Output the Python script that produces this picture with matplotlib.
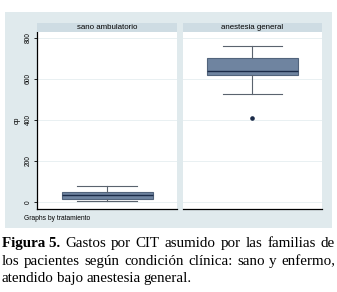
import matplotlib.pyplot as plt
from matplotlib.patches import Rectangle

# box summaries (cp, by tratamiento)
groups = ['sano ambulatorio', 'anestesia general']
medians = [32, 639]
q1 = [15, 620]
q3 = [49, 701]
whis_lo = [6, 527]
whis_hi = [78, 761]
outliers = [[], [412]]

yticks = [0, 200, 400, 600, 800]

caption_lines = [
    ['Figura 5.', 'Gastos', 'por', 'CIT', 'asumido', 'por', 'las', 'familias', 'de'],
    ['los', 'pacientes', 'según', 'condición', 'clínica:', 'sano', 'y', 'enfermo,'],
    ['atendido', 'bajo', 'anestesia', 'general.'],
]

W, H = 337, 292
fig = plt.figure(figsize=(W / 100, H / 100), dpi=100)
fig.patch.set_facecolor('white')

def fx(x):
    return x / W

def fy(y):
    return 1 - y / H

bg = '#e0eaed'
strip = '#cedce3'
fig.add_artist(Rectangle((fx(5), fy(228)), fx(327), 216 / H,
                         transform=fig.transFigure, facecolor=bg, edgecolor='none', zorder=0))

panels = [(37, 177), (183, 322)]
top, bot = 32, 209
for i, (x0, x1) in enumerate(panels):
    ax = fig.add_axes([fx(x0), fy(bot), fx(x1 - x0), (bot - top) / H])
    ax.set_facecolor('white')
    stats = [dict(med=medians[i], q1=q1[i], q3=q3[i], whislo=whis_lo[i],
                  whishi=whis_hi[i], fliers=outliers[i])]
    ax.bxp(stats, positions=[0], widths=0.65, capwidths=0.43, patch_artist=True,
           boxprops=dict(facecolor='#6f84a0', edgecolor='#52647c', linewidth=0.8),
           medianprops=dict(color='#1b2b48', linewidth=1.0),
           whiskerprops=dict(color='#5a636e', linewidth=0.8),
           capprops=dict(color='#5a636e', linewidth=0.8),
           flierprops=dict(marker='o', markersize=2.3, markerfacecolor='#1b2b48',
                           markeredgecolor='#1b2b48'))
    ax.set_xlim(-0.5, 0.5)
    ax.set_ylim(-34, 829)
    ax.set_xticks([])
    ax.set_yticks(yticks)
    for v in yticks:
        ax.axhline(v, color='#e9f0f2', linewidth=0.7, zorder=0)
    for s in ['top', 'right']:
        ax.spines[s].set_visible(False)
    ax.spines['bottom'].set_color('black')
    ax.spines['bottom'].set_linewidth(0.9)
    if i == 0:
        ax.spines['left'].set_linewidth(0.9)
        ax.tick_params(axis='y', length=2.5, width=0.6, pad=1.5, labelsize=4.8)
        for lab in ax.get_yticklabels():
            lab.set_rotation(90)
            lab.set_va('center')
            lab.set_fontfamily('Liberation Sans')
        ax.set_ylabel('cp', fontsize=5, family='Liberation Sans', labelpad=3)
    else:
        ax.spines['left'].set_visible(False)
        ax.tick_params(axis='y', left=False, labelleft=False)
    # strip header
    fig.add_artist(Rectangle((fx(x0), fy(top)), fx(x1 - x0), 9 / H,
                             transform=fig.transFigure, facecolor=strip,
                             edgecolor='none', zorder=1))
    fig.text(fx((x0 + x1) / 2), fy(27.5), groups[i], ha='center', va='center',
             fontsize=5.7, family='Liberation Sans')

fig.text(fx(24), fy(218), 'Graphs by tratamiento', ha='left', va='center',
         fontsize=4.8, family='Liberation Sans')

# caption, justified like the journal text
fig.canvas.draw()
renderer = fig.canvas.get_renderer()
left, right = 2, 335
base_y = [247, 265, 282]
for li, words in enumerate(caption_lines):
    arts = []
    for w in words:
        weight = 'bold' if w == 'Figura 5.' else 'normal'
        t = fig.text(0, fy(base_y[li]), w, ha='left', va='baseline', fontsize=10.8,
                     family='Liberation Serif', weight=weight)
        arts.append(t)
    widths = [a.get_window_extent(renderer).width for a in arts]
    if li < len(caption_lines) - 1:
        gap = (right - left - sum(widths)) / (len(words) - 1)
    else:
        gap = 3.2
    x = left
    for a, w in zip(arts, widths):
        a.set_x(fx(x))
        x += w + gap

fig.savefig('out.png', dpi=100)
